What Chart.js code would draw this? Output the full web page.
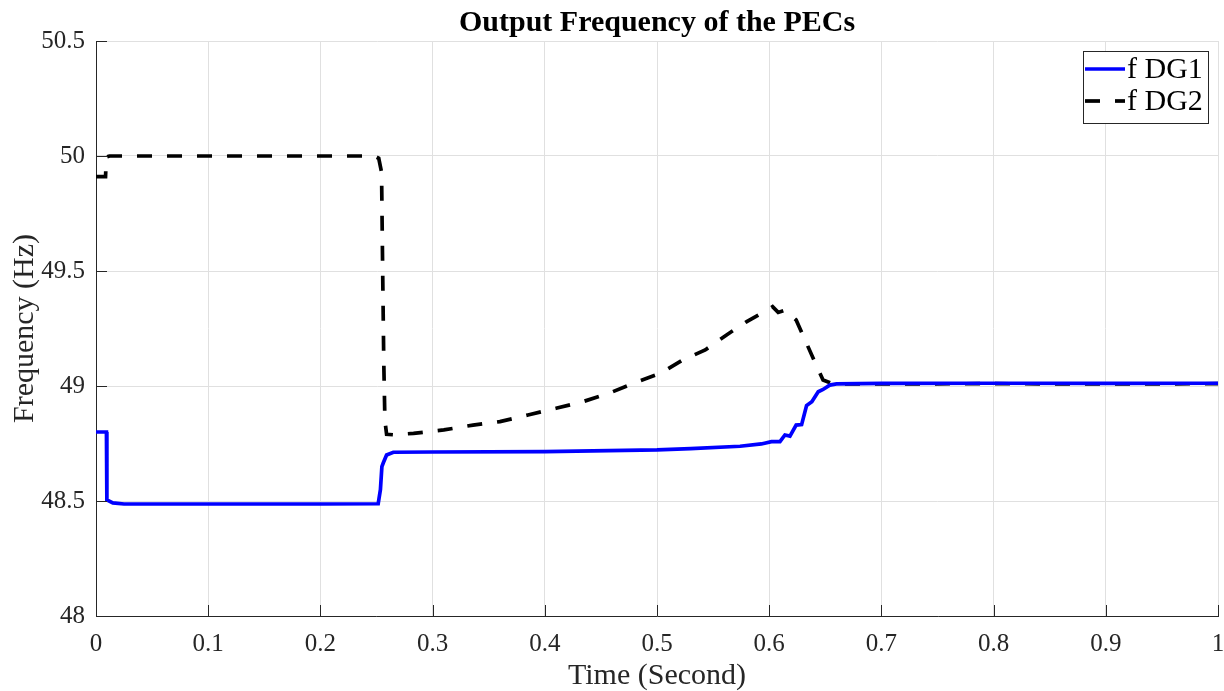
<!DOCTYPE html>
<html>
<head>
<meta charset="utf-8">
<script src="https://cdn.jsdelivr.net/npm/chart.js@4.4.1/dist/chart.umd.min.js"></script>
<style>
  html, body { margin: 0; padding: 0; background: #ffffff; }
  #wrap { width: 1224px; height: 691px; }
</style>
</head>
<body>
<div id="wrap"><canvas id="c" width="1224" height="691"></canvas></div>
<script>
// ---- data ----
const titleText = 'Output Frequency of the PECs';
const xLabelText = 'Time (Second)';
const yLabelText = 'Frequency (Hz)';
const seriesNames = ['f DG1', 'f DG2'];

const xTickValues = [0, 0.1, 0.2, 0.3, 0.4, 0.5, 0.6, 0.7, 0.8, 0.9, 1];
const xTickLabels = ['0', '0.1', '0.2', '0.3', '0.4', '0.5', '0.6', '0.7', '0.8', '0.9', '1'];
const yTickValues = [48, 48.5, 49, 49.5, 50, 50.5];
const yTickLabels = ['48', '48.5', '49', '49.5', '50', '50.5'];

const tDG1 = [0, 0.0093, 0.0097, 0.015, 0.025, 0.1, 0.2, 0.2515, 0.2535, 0.2548, 0.256, 0.259, 0.265,
  0.3, 0.4, 0.5, 0.53, 0.574, 0.593, 0.602, 0.6096, 0.614, 0.6185, 0.624, 0.6289, 0.6333, 0.638,
  0.6437, 0.648, 0.654, 0.66, 0.7, 0.8, 0.9, 1.0];
const fDG1 = [48.80, 48.80, 48.505, 48.492, 48.487, 48.487, 48.487, 48.488, 48.55, 48.649, 48.665, 48.70, 48.712,
  48.713, 48.715, 48.722, 48.728, 48.738, 48.748, 48.758, 48.758, 48.787, 48.782, 48.83, 48.832, 48.915, 48.932,
  48.975, 48.985, 49.004, 49.009, 49.011, 49.012, 49.011, 49.012];

const tDG2 = [0, 0.0085, 0.0092, 0.012, 0.1, 0.2, 0.248, 0.252, 0.2545, 0.2555, 0.2565, 0.2575, 0.259, 0.265,
  0.283, 0.31, 0.336, 0.36, 0.385, 0.41, 0.434, 0.457, 0.479, 0.503, 0.523, 0.543, 0.562, 0.58, 0.598,
  0.603, 0.608, 0.614, 0.624, 0.632, 0.641, 0.648, 0.6555, 0.67, 0.8, 0.9, 1.0];
const fDG2 = [49.91, 49.91, 49.995, 50.0, 50.0, 50.0, 50.0, 49.99, 49.93, 49.5, 49.1, 48.85, 48.79, 48.788,
  48.794, 48.809, 48.83, 48.845, 48.874, 48.903, 48.932, 48.968, 49.012, 49.055, 49.113, 49.157, 49.222, 49.28, 49.33,
  49.345, 49.32, 49.33, 49.287, 49.2, 49.1, 49.026, 49.012, 49.009, 49.01, 49.009, 49.01];

// ---- chart ----
const FONT = '"Liberation Serif", "Times New Roman", serif';
const TEXT = '#262626';

const toPts = (xs, ys) => xs.map((v, i) => ({ x: v, y: ys[i] }));

const decor = {
  id: 'decor',
  afterDraw(chart) {
    const { ctx, chartArea: a, scales: { x, y } } = chart;
    ctx.save();
    // inward tick marks
    ctx.strokeStyle = TEXT;
    ctx.lineWidth = 1;
    xTickValues.forEach(v => {
      const px = Math.round(x.getPixelForValue(v)) + 0.5;
      ctx.beginPath(); ctx.moveTo(px, a.bottom); ctx.lineTo(px, a.bottom - 11); ctx.stroke();
    });
    yTickValues.forEach(v => {
      const py = Math.round(y.getPixelForValue(v)) + 0.5;
      ctx.beginPath(); ctx.moveTo(a.left, py); ctx.lineTo(a.left + 11, py); ctx.stroke();
    });
    // title
    ctx.fillStyle = '#000';
    ctx.font = 'bold 30px ' + FONT;
    ctx.textAlign = 'center';
    ctx.textBaseline = 'alphabetic';
    ctx.fillText(titleText, (a.left + a.right) / 2, 31);
    // x label
    ctx.fillStyle = TEXT;
    ctx.font = '30px ' + FONT;
    ctx.fillText(xLabelText, (a.left + a.right) / 2, 684);
    // y label
    ctx.save();
    ctx.translate(33, (a.top + a.bottom) / 2);
    ctx.rotate(-Math.PI / 2);
    ctx.fillText(yLabelText, 0, 0);
    ctx.restore();
    // legend
    const lx = 1083.5, ly = 51.5, lw = 125, lh = 72;
    ctx.fillStyle = '#fff';
    ctx.fillRect(lx, ly, lw, lh);
    ctx.strokeStyle = TEXT;
    ctx.lineWidth = 1;
    ctx.strokeRect(lx, ly, lw, lh);
    const rows = [69, 101];
    chart.data.datasets.forEach((ds, i) => {
      ctx.beginPath();
      ctx.strokeStyle = ds.borderColor;
      ctx.lineWidth = ds.borderWidth;
      ctx.setLineDash(ds.borderDash || []);
      ctx.moveTo(1085, rows[i]);
      ctx.lineTo(1125, rows[i]);
      ctx.stroke();
      ctx.setLineDash([]);
      ctx.fillStyle = '#000';
      ctx.font = '30px ' + FONT;
      ctx.textAlign = 'left';
      ctx.textBaseline = 'middle';
      ctx.fillText(ds.label, 1127, rows[i] + 1);
    });
    ctx.restore();
  }
};

new Chart(document.getElementById('c'), {
  type: 'scatter',
  data: {
    datasets: [
      {
        label: seriesNames[0],
        data: toPts(tDG1, fDG1),
        showLine: true,
        borderColor: '#0000ff',
        borderWidth: 3.7,
        pointRadius: 0,
        tension: 0,
        fill: false
      },
      {
        label: seriesNames[1],
        data: toPts(tDG2, fDG2),
        showLine: true,
        borderColor: '#000000',
        borderWidth: 3.7,
        borderDash: [15, 15],
        pointRadius: 0,
        tension: 0,
        fill: false
      }
    ]
  },
  options: {
    responsive: false,
    animation: false,
    devicePixelRatio: 1,
    layout: { padding: { left: 0, right: 6, top: 41, bottom: 0 } },
    plugins: {
      legend: { display: false },
      title: { display: false },
      tooltip: { enabled: false }
    },
    scales: {
      x: {
        type: 'linear',
        min: 0, max: 1,
        afterBuildTicks: s => { s.ticks = xTickValues.map(v => ({ value: v })); },
        afterFit: s => { s.height = 75; s.paddingLeft = 0; s.paddingRight = 0; },
        ticks: {
          callback: (v, i) => xTickLabels[i],
          color: TEXT,
          font: { family: FONT, size: 25 },
          padding: 13,
          maxRotation: 0,
          autoSkip: false
        },
        grid: { color: '#e0e0e0', lineWidth: 1, drawTicks: false },
        border: { display: true, color: TEXT, width: 1 }
      },
      y: {
        type: 'linear',
        min: 48, max: 50.5,
        afterBuildTicks: s => { s.ticks = yTickValues.map(v => ({ value: v })); },
        afterFit: s => { s.width = 96; s.paddingTop = 0; s.paddingBottom = 0; },
        ticks: {
          callback: (v, i) => yTickLabels[i],
          color: TEXT,
          font: { family: FONT, size: 25 },
          padding: 11,
          autoSkip: false
        },
        grid: { color: '#e0e0e0', lineWidth: 1, drawTicks: false },
        border: { display: true, color: TEXT, width: 1 }
      }
    }
  },
  plugins: [decor]
});
</script>
</body>
</html>
